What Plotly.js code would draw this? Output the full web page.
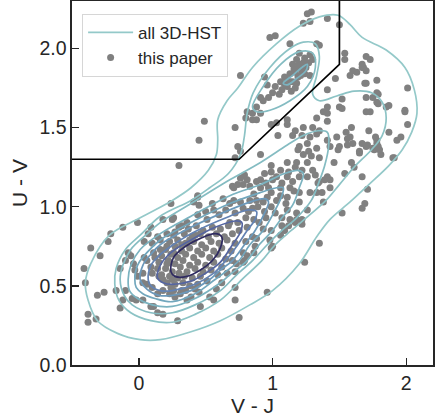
<!DOCTYPE html>
<html>
<head>
<meta charset="utf-8">
<script src="https://cdn.plot.ly/plotly-3.0.1.min.js"></script>
<style>html,body{margin:0;padding:0;background:#fff;}#chart{width:438px;height:418px;}</style>
</head>
<body>
<div id="chart"></div>
<script>
// ---- axis ticks ----
const xTickVals = [0, 1, 2];
const yTickVals = [0, 0.5, 1.0, 1.5, 2.0];
const yTickText = ['0.0', '0.5', '1.0', '1.5', '2.0'];

// ---- UVJ selection box ----
const boxX = [-0.5, 0.75, 1.5, 1.5];
const boxY = [1.3, 1.3, 1.9, 2.3];

// ---- 3D-HST density contours (level 1 = outermost) ----
const c1x = [0.59,0.59,0.66,0.74,0.85,1.03,1.20,1.35,1.49,1.58,1.67,1.85,1.99,2.06,2.08,2.04,1.97,1.87,1.72,1.58,1.43,1.33,1.20,1.00,0.83,0.61,0.39,0.16,0.01,-0.16,-0.31,-0.38,-0.40,-0.36,-0.22,0.01,0.25,0.39,0.52,0.58,0.59];
const c1y = [1.42,1.55,1.67,1.75,1.88,2.03,2.14,2.20,2.21,2.15,2.07,1.99,1.88,1.74,1.59,1.47,1.36,1.26,1.14,1.03,0.92,0.81,0.64,0.47,0.38,0.28,0.21,0.16,0.16,0.20,0.28,0.41,0.52,0.64,0.82,0.93,1.04,1.12,1.23,1.33,1.42];

const c2x = [0.81,0.855,0.98,1.13,1.23,1.32,1.35,1.33,1.30,1.35,1.48,1.61,1.74,1.82,1.85,1.82,1.74,1.61,1.50,1.40,1.28,1.14,1.02,0.92,0.77,0.61,0.42,0.25,0.09,-0.06,-0.15,-0.18,-0.17,-0.10,0.01,0.16,0.39,0.53,0.67,0.76,0.79,0.81];
const c2y = [1.59,1.72,1.88,2.00,2.04,2.03,1.95,1.83,1.71,1.67,1.70,1.73,1.72,1.66,1.56,1.45,1.36,1.25,1.14,1.04,0.95,0.85,0.76,0.66,0.54,0.41,0.32,0.27,0.28,0.33,0.41,0.51,0.61,0.73,0.82,0.94,1.04,1.12,1.21,1.33,1.45,1.59];

const c3ax = [0.85,0.93,1.06,1.20,1.30,1.32,1.26,1.13,0.98,0.88,0.85];
const c3ay = [1.63,1.76,1.90,1.98,1.97,1.88,1.76,1.67,1.61,1.60,1.63];
const c3bx = [-0.14,-0.12,-0.06,0.05,0.16,0.39,0.68,0.91,1.11,1.23,1.34,1.41,1.42,1.39,1.34,1.29,1.18,1.07,0.96,0.85,0.72,0.61,0.42,0.25,0.09,-0.05,-0.11,-0.14];
const c3by = [0.54,0.63,0.73,0.82,0.90,1.02,1.17,1.28,1.39,1.45,1.48,1.47,1.39,1.26,1.14,1.04,0.93,0.85,0.76,0.66,0.56,0.47,0.38,0.33,0.33,0.38,0.44,0.54];

const c4ax = [1.08,1.15,1.22,1.26,1.25,1.18,1.11,1.08];
const c4ay = [1.78,1.83,1.88,1.90,1.86,1.81,1.77,1.78];
const c4bx = [-0.08,-0.06,0.01,0.16,0.39,0.68,0.91,1.09,1.19,1.23,1.20,1.15,1.07,1.00,0.90,0.81,0.68,0.61,0.42,0.25,0.10,-0.01,-0.07,-0.08];
const c4by = [0.54,0.63,0.73,0.83,0.94,1.07,1.14,1.21,1.23,1.21,1.12,1.01,0.93,0.85,0.76,0.66,0.57,0.52,0.42,0.37,0.38,0.42,0.47,0.54];

const c5x = [-0.03,-0.01,0.06,0.16,0.39,0.68,0.91,1.03,1.08,1.07,1.02,0.93,0.83,0.75,0.65,0.57,0.42,0.25,0.12,0.03,-0.02,-0.03];
const c5y = [0.54,0.63,0.71,0.79,0.90,1.02,1.09,1.12,1.12,1.07,0.98,0.85,0.76,0.66,0.59,0.54,0.45,0.40,0.42,0.45,0.49,0.54];

const c6x = [0.01,0.03,0.09,0.16,0.39,0.68,0.87,0.95,0.97,0.94,0.87,0.79,0.70,0.61,0.53,0.39,0.25,0.15,0.06,0.01];
const c6y = [0.54,0.63,0.70,0.76,0.87,0.98,1.04,1.05,1.03,0.96,0.85,0.76,0.66,0.60,0.54,0.47,0.44,0.44,0.48,0.54];

const c7x = [0.07,0.09,0.15,0.24,0.39,0.68,0.82,0.88,0.87,0.81,0.74,0.65,0.56,0.42,0.25,0.16,0.09,0.07];
const c7y = [0.54,0.63,0.69,0.75,0.83,0.94,0.98,0.97,0.92,0.85,0.76,0.66,0.58,0.51,0.47,0.47,0.50,0.54];

const c8x = [0.14,0.16,0.24,0.39,0.57,0.72,0.77,0.76,0.70,0.61,0.50,0.39,0.25,0.18,0.14];
const c8y = [0.55,0.63,0.71,0.79,0.87,0.91,0.90,0.84,0.76,0.65,0.58,0.53,0.51,0.52,0.55];

const c9x = [0.24,0.26,0.35,0.46,0.57,0.62,0.61,0.55,0.46,0.36,0.27,0.24];
const c9y = [0.59,0.68,0.75,0.80,0.83,0.81,0.74,0.66,0.60,0.56,0.56,0.59];

const levelColors = ['#94c9c9','#8cc3c5','#84bcc2','#7bb3c0','#72a7bd','#6b98ba','#6382b3','#5565a1','#2e2a60'];

// ---- this paper: galaxies (V-J, U-V) ----
const ptsUpper = [[1.26,2.22],[1.29,2.23],[1.23,2.16],[1.28,2.17],[1.41,2.19],[1.50,2.15],[0.98,2.07],[1.02,2.08],[1.13,2.03],[1.33,2.03],[1.35,2.02],[1.20,1.97],[1.28,1.96],[1.54,1.97],[1.54,1.93],[1.70,1.95],[1.73,1.93],[1.18,1.93],[1.23,1.91],[1.27,1.91],[1.15,1.90],[1.19,1.88],[1.22,1.86],[1.17,1.85],[1.13,1.84],[1.24,1.84],[1.19,1.82],[1.09,1.82],[1.06,1.79],[1.11,1.80],[1.15,1.79],[1.28,1.83],[1.11,1.76],[1.17,1.75],[1.02,1.76],[1.07,1.74],[0.96,1.77],[0.94,1.82],[0.76,1.83],[0.93,1.67],[0.91,1.69],[0.97,1.69],[0.88,1.63],[0.85,1.59],[0.91,1.59],[0.81,1.60],[0.85,1.55],[0.88,1.55],[0.72,1.50],[0.80,1.56],[1.20,1.90],[1.16,1.87],[1.21,1.83],[1.13,1.79],[1.25,1.88],[1.18,1.78],[1.09,1.77],[1.14,1.73],[1.24,1.94],[1.30,1.93],[1.05,1.71],[1.00,1.72],[0.49,1.54],[0.45,1.42],[0.30,1.26]];
const ptsRight = [[1.60,1.86],[1.63,1.85],[1.68,1.88],[1.70,1.86],[1.58,1.83],[1.47,1.81],[1.78,1.80],[1.69,1.78],[1.41,1.74],[2.01,1.75],[1.70,1.69],[1.78,1.72],[1.79,1.65],[1.85,1.63],[1.87,1.64],[1.50,1.63],[1.99,1.61],[1.38,1.60],[1.41,1.59],[1.33,1.56],[1.41,1.54],[1.70,1.60],[2.01,1.52],[1.67,1.90],[1.75,1.69],[1.93,1.42],[1.72,1.48],[1.78,1.42],[1.79,1.38],[1.75,1.37],[1.90,1.31],[1.67,1.40],[1.41,1.63],[1.52,1.68],[1.52,1.62],[1.67,1.88],[1.70,1.78],[1.79,1.71],[1.78,1.66],[1.73,1.60],[1.99,1.60],[1.55,1.47],[1.59,1.50],[1.58,1.44],[1.56,1.39],[1.65,1.35],[1.71,1.39],[1.77,1.44],[1.80,1.36],[1.87,1.47],[1.96,1.44],[1.91,1.31],[1.41,1.42],[1.43,1.38],[1.50,1.38],[1.48,1.44],[1.56,1.43],[1.60,1.40],[1.70,1.38],[1.78,1.40],[1.76,1.36],[1.65,1.34],[1.81,1.33]];
const ptsMiddle = [[1.03,1.53],[0.99,1.52],[1.11,1.52],[1.17,1.48],[1.23,1.50],[1.11,1.55],[1.22,1.45],[1.30,1.50],[1.35,1.48],[1.28,1.44],[1.20,1.38],[1.33,1.37],[1.27,1.35],[1.29,1.32],[1.15,1.45],[1.33,1.46],[1.67,1.19],[1.71,1.11],[1.59,1.28],[1.61,1.25],[1.54,1.21],[1.46,1.28],[1.49,1.36],[1.35,1.31],[1.26,1.40],[1.19,1.36],[1.23,1.33],[1.17,1.25],[1.22,1.23],[1.26,1.28],[1.30,1.23],[1.32,1.20],[1.11,1.19],[1.15,1.16],[1.20,1.19],[1.13,1.12],[1.07,1.15],[1.41,1.19],[1.43,1.12],[1.35,1.16],[1.37,1.09],[1.28,1.09],[1.11,1.06],[1.20,1.09],[0.74,1.38],[0.76,1.35],[0.72,1.31],[1.04,1.45],[0.91,1.33],[0.99,1.26],[0.94,1.21],[0.99,1.22],[1.03,1.19],[1.06,1.23],[1.11,1.28],[1.18,1.28],[1.12,1.22],[0.76,1.18],[0.79,1.20],[0.74,1.14],[0.78,1.14],[0.71,1.12],[0.83,1.13],[0.88,1.16],[0.91,1.12],[0.97,1.12],[0.99,1.09],[1.06,1.12],[1.06,1.07],[1.03,1.04],[0.96,1.06],[0.93,1.03],[0.88,1.04],[0.83,1.04],[0.76,1.03],[0.71,1.04],[0.68,1.02],[0.78,0.99],[0.85,0.99],[0.89,1.00],[0.94,0.97],[0.99,1.00],[1.11,0.98],[1.18,0.96],[1.22,0.92],[1.13,0.92],[1.07,0.93],[1.26,0.98],[1.34,1.15],[1.39,1.17],[1.07,0.88],[1.09,0.85],[0.99,0.85],[1.06,0.82],[0.98,0.79],[1.00,0.75],[1.52,0.96],[1.35,0.77],[1.24,0.65],[0.81,0.87],[0.85,0.81],[0.86,0.92],[1.38,1.03],[1.67,0.99],[1.69,1.02],[0.96,0.46],[0.72,0.41],[0.75,0.30],[1.20,1.03],[1.12,0.88],[1.18,0.92],[0.99,0.74],[0.87,0.75],[0.86,0.71],[0.78,0.65],[0.72,0.59],[0.72,0.49],[0.56,0.41],[0.46,0.37],[1.43,1.17],[1.33,1.09],[1.26,1.19],[1.17,0.90],[1.22,0.89],[0.81,0.69],[0.73,0.64],[0.79,0.66],[0.44,1.07],[0.70,1.13],[0.81,1.17],[0.91,1.17],[0.60,0.95],[0.65,0.98],[0.72,0.96],[0.63,1.05],[0.55,1.02],[0.50,0.97],[0.80,0.93],[0.90,0.90],[0.95,0.93],[0.82,0.97],[0.74,0.90],[0.68,0.90],[0.86,1.08],[0.95,1.15],[1.00,1.17],[1.16,1.10],[1.10,1.02],[1.02,0.96],[0.93,0.86],[0.88,0.80],[0.80,0.78],[0.78,0.71],[0.70,0.66],[0.66,0.58],[0.62,0.52],[0.58,0.48]];
const ptsLeft = [[0.24,1.02],[0.41,1.03],[0.45,1.01],[-0.01,0.90],[-0.12,0.87],[-0.21,0.83],[-0.23,0.78],[-0.36,0.74],[-0.29,0.69],[-0.41,0.61],[-0.40,0.52],[-0.31,0.44],[-0.26,0.46],[-0.38,0.32],[-0.32,0.29],[-0.14,0.36],[0.18,0.92],[0.07,0.83],[0.14,0.81],[0.26,0.93],[0.32,0.88],[0.44,0.95],[0.51,0.92],[0.56,0.98],[0.21,0.83],[0.04,0.78],[-0.08,0.71],[-0.10,0.66],[-0.04,0.64],[-0.14,0.61],[-0.01,0.56],[0.03,0.52],[-0.17,0.47],[-0.10,0.47],[-0.05,0.42],[-0.02,0.41],[0.14,0.33],[0.18,0.32],[0.29,0.28],[0.11,0.37],[0.10,0.49],[0.14,0.45],[0.15,0.56],[0.09,0.62],[0.06,0.66],[0.11,0.71],[0.16,0.73],[0.21,0.75],[0.26,0.71],[0.21,0.64],[0.18,0.54],[0.24,0.49],[0.31,0.45],[0.36,0.41],[0.53,0.43],[0.44,1.06],[0.09,0.87],[0.10,0.77],[0.16,0.79],[0.25,0.92],[0.27,0.84],[0.36,0.90],[0.32,0.76],[0.38,0.79],[0.42,0.82],[-0.06,0.69],[0.04,0.68],[0.12,0.68],[0.23,0.65],[-0.03,0.60],[0.03,0.58],[0.10,0.58],[0.25,0.54],[0.30,0.58],[0.06,0.51],[0.18,0.47],[0.23,0.45],[0.27,0.43],[0.32,0.47],[0.39,0.43],[0.45,0.46],[-0.12,0.41],[0.03,0.41],[0.09,0.37],[-0.38,0.27]];
const ptsCore = [[0.30,0.87],[0.37,0.86],[0.43,0.88],[0.48,0.85],[0.55,0.87],[0.61,0.86],[0.67,0.88],[0.26,0.82],[0.34,0.83],[0.40,0.81],[0.46,0.83],[0.52,0.81],[0.58,0.83],[0.64,0.81],[0.70,0.83],[0.75,0.85],[0.23,0.78],[0.29,0.79],[0.35,0.77],[0.41,0.78],[0.47,0.76],[0.54,0.78],[0.60,0.77],[0.66,0.79],[0.72,0.77],[0.20,0.73],[0.27,0.75],[0.32,0.72],[0.38,0.74],[0.44,0.72],[0.50,0.74],[0.56,0.72],[0.62,0.74],[0.69,0.72],[0.17,0.69],[0.24,0.70],[0.29,0.68],[0.35,0.70],[0.41,0.68],[0.47,0.70],[0.53,0.68],[0.59,0.70],[0.65,0.67],[0.15,0.65],[0.22,0.66],[0.27,0.64],[0.33,0.66],[0.38,0.63],[0.44,0.65],[0.50,0.63],[0.56,0.65],[0.62,0.62],[0.14,0.61],[0.20,0.61],[0.25,0.59],[0.31,0.62],[0.36,0.59],[0.42,0.61],[0.48,0.59],[0.54,0.60],[0.59,0.57],[0.17,0.57],[0.23,0.56],[0.29,0.55],[0.34,0.56],[0.40,0.55],[0.46,0.56],[0.51,0.53],[0.21,0.52],[0.27,0.51],[0.33,0.52],[0.38,0.50],[0.44,0.51],[0.26,0.47],[0.35,0.47],[0.42,0.48]];

// ---- build traces ----
const contourPieces = [
  [c1x, c1y, 0], [c2x, c2y, 1], [c3ax, c3ay, 2], [c3bx, c3by, 2],
  [c4ax, c4ay, 3], [c4bx, c4by, 3], [c5x, c5y, 4], [c6x, c6y, 5],
  [c7x, c7y, 6], [c8x, c8y, 7], [c9x, c9y, 8]
];
const allPts = ptsUpper.concat(ptsRight, ptsMiddle, ptsLeft, ptsCore);

const traces = [];
traces.push({
  type: 'scatter', mode: 'markers', name: 'this paper', legendrank: 2,
  x: allPts.map(p => p[0]), y: allPts.map(p => p[1]),
  marker: {color: '#808080', size: 7, line: {width: 0}},
  hoverinfo: 'skip'
});
contourPieces.forEach((c, i) => {
  traces.push({
    type: 'scatter', mode: 'lines', x: c[0], y: c[1],
    name: 'all 3D-HST', legendgroup: 'hst', legendrank: 1,
    showlegend: i === 0,
    line: {color: levelColors[c[2]], width: 1.7, shape: 'spline', smoothing: 1},
    hoverinfo: 'skip'
  });
});
traces.push({
  type: 'scatter', mode: 'lines', x: boxX, y: boxY, showlegend: false,
  line: {color: '#000000', width: 1.7}, hoverinfo: 'skip'
});

const axisCommon = {
  showgrid: false, zeroline: false, showline: true, mirror: true,
  linecolor: '#262626', linewidth: 1.6,
  ticks: 'inside', ticklen: 7, tickwidth: 1.5, tickcolor: '#262626',
  tickfont: {family: 'Arial, Liberation Sans, sans-serif', size: 19.5, color: '#262626'}
};

const layout = {
  width: 438, height: 418,
  margin: {l: 72, r: 5, t: 1, b: 53},
  paper_bgcolor: '#ffffff', plot_bgcolor: '#ffffff',
  showlegend: true,
  legend: {
    x: 0.028, y: 0.965, xanchor: 'left', yanchor: 'top',
    bgcolor: 'rgba(255,255,255,0.85)', bordercolor: '#d6d6d6', borderwidth: 1,
    font: {family: 'Arial, Liberation Sans, sans-serif', size: 17, color: '#262626'},
    itemwidth: 45, tracegroupgap: 0
  },
  xaxis: Object.assign({}, axisCommon, {
    range: [-0.5, 2.2], tickmode: 'array', tickvals: xTickVals,
    title: {text: 'V - J', font: {family: 'Arial, Liberation Sans, sans-serif', size: 21, color: '#262626'}, standoff: 4}
  }),
  yaxis: Object.assign({}, axisCommon, {
    range: [0, 2.3], tickmode: 'array', tickvals: yTickVals, ticktext: yTickText,
    title: {text: 'U - V', font: {family: 'Arial, Liberation Sans, sans-serif', size: 21, color: '#262626'}, standoff: 6}
  })
};

Plotly.newPlot('chart', traces, layout, {staticPlot: true, displayModeBar: false});
</script>
</body>
</html>
